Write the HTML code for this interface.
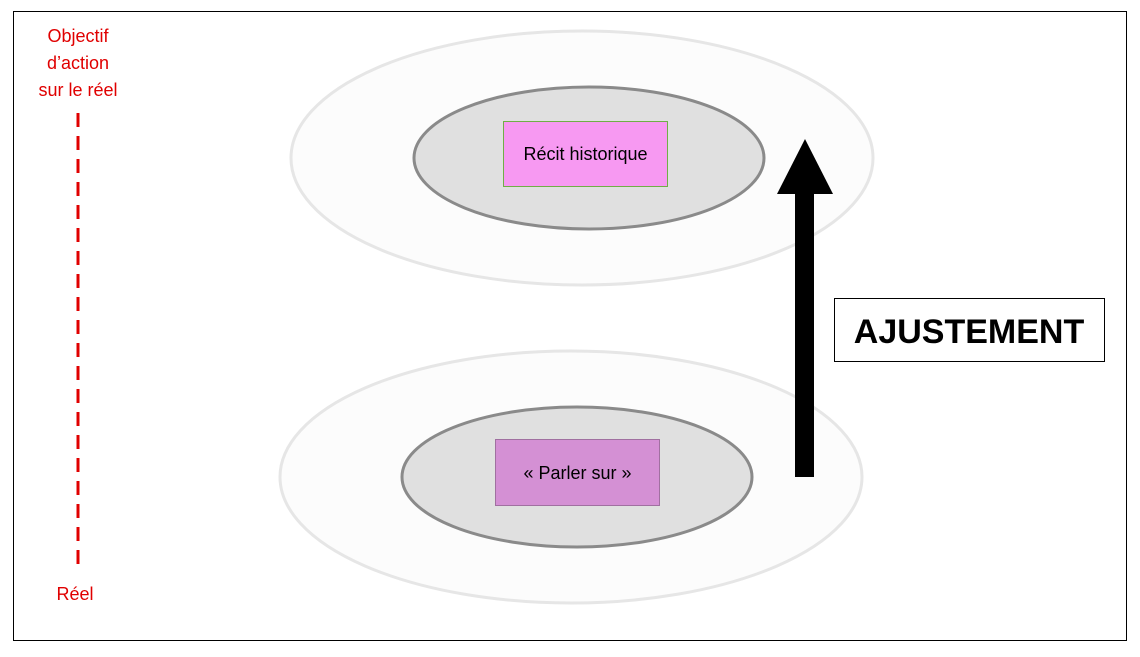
<!DOCTYPE html>
<html><head><meta charset="utf-8"><style>
html,body{margin:0;padding:0;background:#fff;}
svg{display:block;}
text{font-family:"Liberation Sans",sans-serif;}
</style></head><body>
<svg width="1140" height="657" viewBox="0 0 1140 657" xmlns="http://www.w3.org/2000/svg">
<rect x="0" y="0" width="1140" height="657" fill="#fff"/>
<rect x="13.5" y="11.5" width="1113" height="629" fill="#fff" stroke="#000" stroke-width="1"/>
<ellipse cx="582" cy="158" rx="291" ry="127" fill="#fcfcfc" stroke="#e6e6e6" stroke-width="3"/>
<ellipse cx="589" cy="158" rx="175" ry="71" fill="#e0e0e0" stroke="#8a8a8a" stroke-width="3"/>
<rect x="503.5" y="121.5" width="164" height="65" fill="#f799f2" stroke="#70ad47" stroke-width="1"/>
<text x="585.5" y="160" font-size="18" text-anchor="middle" fill="#000">Récit historique</text>
<ellipse cx="571" cy="477" rx="291" ry="126" fill="#fcfcfc" stroke="#e6e6e6" stroke-width="3"/>
<ellipse cx="577" cy="477" rx="175" ry="70" fill="#e0e0e0" stroke="#8a8a8a" stroke-width="3"/>
<rect x="495.5" y="439.5" width="164" height="66" fill="#d490d4" stroke="#a070a0" stroke-width="1"/>
<text x="577.5" y="479" font-size="18" text-anchor="middle" fill="#000">« Parler sur »</text>
<rect x="795" y="190" width="19" height="287" fill="#000"/>
<polygon points="777,194 833,194 805,139" fill="#000"/>
<rect x="834.5" y="298.5" width="270" height="63" fill="#fff" stroke="#000" stroke-width="1"/>
<text x="969" y="343" font-size="34" font-weight="bold" text-anchor="middle" fill="#000">AJUSTEMENT</text>
<line x1="78" y1="113" x2="78" y2="566" stroke="#e00000" stroke-width="3" stroke-dasharray="14,9"/>
<g fill="#e00000" font-size="18" text-anchor="middle">
<text x="78" y="42">Objectif</text>
<text x="78" y="69">d’action</text>
<text x="78" y="96">sur le réel</text>
<text x="75" y="600">Réel</text>
</g>
</svg>
</body></html>
